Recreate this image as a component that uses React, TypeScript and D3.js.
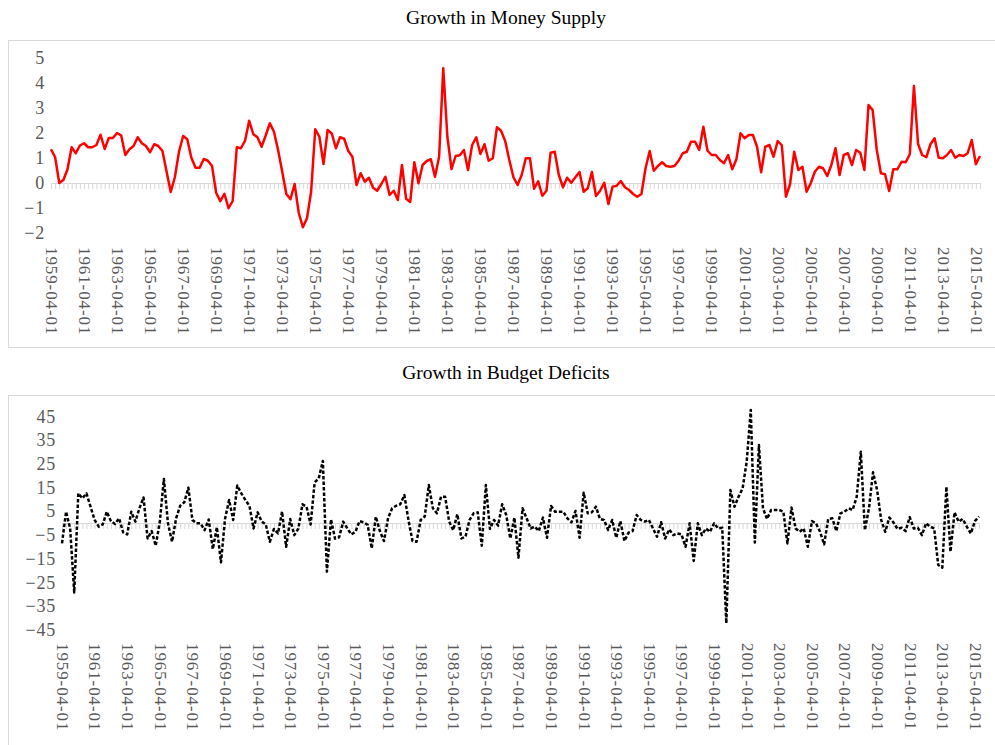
import React, { useEffect, useRef } from 'react';
import * as d3 from 'd3';

const width = 995;
const height = 745;
const serif = 'Liberation Serif, Times New Roman, serif';

// labels shown on the category axis (every 8th quarter)
const tickLabels = [
  '1959-04-01', '1961-04-01', '1963-04-01', '1965-04-01', '1967-04-01',
  '1969-04-01', '1971-04-01', '1973-04-01', '1975-04-01', '1977-04-01',
  '1979-04-01', '1981-04-01', '1983-04-01', '1985-04-01', '1987-04-01',
  '1989-04-01', '1991-04-01', '1993-04-01', '1995-04-01', '1997-04-01',
  '1999-04-01', '2001-04-01', '2003-04-01', '2005-04-01', '2007-04-01',
  '2009-04-01', '2011-04-01', '2013-04-01', '2015-04-01',
];

const moneyTicks = [-2, -1, 0, 1, 2, 3, 4, 5];
const budgetTicks = [-45, -35, -25, -15, -5, 5, 15, 25, 35, 45];

// quarterly growth in money supply, 1959Q2 onwards
const moneyGrowth = [
  1.35, 1.03, 0.0, 0.12, 0.55, 1.43, 1.19, 1.5, 1.59, 1.43,
  1.43, 1.52, 1.93, 1.36, 1.8, 1.8, 2.0, 1.9, 1.12, 1.35,
  1.48, 1.83, 1.59, 1.48, 1.23, 1.55, 1.48, 1.28, 0.45, -0.36,
  0.23, 1.25, 1.88, 1.75, 1.01, 0.61, 0.61, 0.96, 0.89, 0.68,
  -0.39, -0.73, -0.43, -1.01, -0.72, 1.43, 1.39, 1.69, 2.49, 1.95,
  1.83, 1.45, 1.9, 2.39, 2.05, 1.32, 0.45, -0.44, -0.65, -0.04,
  -1.19, -1.77, -1.41, -0.35, 2.15, 1.85, 0.76, 2.12, 1.98, 1.39,
  1.83, 1.77, 1.28, 1.05, -0.08, 0.39, 0.05, 0.21, -0.19, -0.31,
  -0.04, 0.25, -0.48, -0.31, -0.68, 0.72, -0.63, -0.76, 0.83, -0.01,
  0.72, 0.88, 0.95, 0.25, 1.05, 4.59, 1.85, 0.55, 1.08, 1.11,
  1.32, 0.52, 1.52, 1.83, 1.16, 1.55, 0.89, 0.99, 2.23, 2.09,
  1.68, 0.92, 0.23, -0.08, 0.32, 0.99, 0.99, -0.23, 0.07, -0.51,
  -0.31, 1.21, 1.25, 0.32, -0.17, 0.21, 0.01, 0.23, 0.44, -0.35,
  -0.21, 0.44, -0.52, -0.31, 0.01, -0.84, -0.15, -0.11, 0.08, -0.17,
  -0.28, -0.44, -0.55, -0.44, 0.59, 1.28, 0.49, 0.68, 0.83, 0.68,
  0.65, 0.68, 0.89, 1.19, 1.25, 1.65, 1.65, 1.32, 2.25, 1.29,
  1.12, 1.12, 0.92, 0.79, 1.12, 0.55, 0.95, 1.99, 1.79, 1.92,
  1.92, 1.45, 0.43, 1.45, 1.52, 1.05, 1.68, 1.51, -0.55, -0.04,
  1.25, 0.52, 0.65, -0.35, -0.01, 0.45, 0.65, 0.59, 0.28, 0.72,
  1.39, 0.32, 1.12, 1.19, 0.72, 1.32, 1.21, 0.52, 3.12, 2.92,
  1.32, 0.39, 0.35, -0.32, 0.55, 0.55, 0.85, 0.83, 1.15, 3.88,
  1.56, 1.12, 1.03, 1.55, 1.79, 1.01, 0.99, 1.12, 1.32, 1.01,
  1.12, 1.08, 1.19, 1.72, 0.75, 1.08,
];

// quarterly growth in budget deficits, same quarters
const budgetGrowth = [
  -8.6, 4.8, -2.3, -29.3, 12.5, 10.4, 12.5, 6.9, 1.3, -1.5,
  -0.6, 4.8, 0.8, -0.4, 2.0, -3.9, -4.8, 4.8, 0.6, 6.2,
  10.8, -6.5, -3.4, -9.6, 0.6, 18.6, -0.1, -7.9, 2.0, 7.3,
  8.7, 14.9, 1.3, -0.1, -0.1, -3.0, 1.5, -11.0, -1.8, -16.6,
  1.7, 9.7, 1.3, 15.8, 12.5, 9.7, 7.2, -2.3, 4.5, 0.6,
  -0.6, -7.9, -2.5, -4.4, 4.8, -10.0, 1.7, -5.1, -2.3, 7.9,
  6.9, -0.6, 17.2, 18.8, 26.2, -20.5, 1.5, -6.6, -6.0, 0.6,
  -2.3, -4.8, -3.7, 0.8, 0.3, -0.8, -10.7, 2.7, -3.4, -7.6,
  2.0, 6.2, 7.3, 7.9, 11.8, 1.3, -7.6, -7.9, 1.3, 2.7,
  16.0, 6.2, 4.1, 11.1, 11.1, 0.6, -3.0, 3.7, -6.5, -5.8,
  1.3, 4.1, 4.5, -9.6, 16.0, -2.5, 1.3, -1.1, 7.9, 3.4,
  -6.5, 2.3, -14.6, 6.2, 2.0, -2.3, -1.5, -3.4, 2.3, -6.2,
  7.2, 4.8, 4.8, 4.8, 2.0, 0.3, 5.1, -6.2, 12.8, 4.1,
  4.5, 6.9, 1.7, 1.3, -3.0, 1.3, -6.2, 0.8, -7.6, -4.1,
  -3.4, 3.4, 1.3, 0.6, 1.3, -2.3, -5.8, 0.3, -6.5, -2.7,
  -5.1, -4.4, -4.8, -10.0, -0.1, -16.0, -0.1, -5.1, -2.3, -3.7,
  -0.1, -2.3, -2.0, -42.3, 13.9, 6.9, 11.1, 14.6, 25.9, 47.7,
  -8.2, 32.9, 6.2, 1.7, 5.5, 5.5, 5.5, 4.8, -8.6, 6.5,
  -2.3, -3.7, -2.3, -10.0, 0.8, -0.1, -3.7, -9.0, 1.7, 2.0,
  -3.4, 4.1, 4.8, 6.2, 5.5, 11.1, 30.1, -3.0, 6.2, 21.4,
  13.9, 1.3, -3.7, 2.3, 0.3, -2.5, -2.0, -3.4, 2.5, -2.3,
  -2.0, -5.1, -0.1, -1.5, -2.3, -17.7, -18.8, 15.3, -12.1, 4.5,
  0.6, 1.7, -1.5, -4.4, 0.8, 2.7,
];

const parse = d3.timeParse('%Y-%m-%d');
const fmt = d3.timeFormat('%Y-%m-%d');
const start = parse(tickLabels[0]);
const quarters = d3.timeMonth.every(3)
  .range(start, d3.timeMonth.offset(start, 3 * moneyGrowth.length))
  .map(fmt);

const panels = [
  {
    title: 'Growth in Money Supply', values: moneyGrowth, ticks: moneyTicks,
    frameTop: 40, frameHeight: 307, titleY: 24, left: 51, right: 980,
    yDomain: [-2, 5], yRange: [233, 58], labelTop: 247,
    color: '#ff0000', dash: null,
  },
  {
    title: 'Growth in Budget Deficits', values: budgetGrowth, ticks: budgetTicks,
    frameTop: 395, frameHeight: 400, titleY: 379, left: 62, right: 979,
    yDomain: [-45, 50], yRange: [629.7, 404.5], labelTop: 643,
    color: '#000000', dash: '3.5 2',
  },
];

export default function App() {
  const ref = useRef(null);

  useEffect(() => {
    const svg = d3.select(ref.current);
    svg.selectAll('*').remove();
    svg.append('rect').attr('width', width).attr('height', height).attr('fill', '#fff');

    panels.forEach(p => {
      const g = svg.append('g').attr('font-family', serif);

      // chart frame
      g.append('rect')
        .attr('x', 8.5).attr('y', p.frameTop + 0.5)
        .attr('width', 1000).attr('height', p.frameHeight)
        .attr('fill', 'none').attr('stroke', '#d9d9d9');

      g.append('text')
        .attr('x', 506).attr('y', p.titleY)
        .attr('text-anchor', 'middle')
        .attr('font-size', 19.5)
        .attr('fill', '#000')
        .text(p.title);

      const x = d3.scalePoint().domain(quarters).range([p.left, p.right]);
      const y = d3.scaleLinear().domain(p.yDomain).range(p.yRange);

      // y axis labels
      const yAxisGroup = g.append('g')
        .attr('transform', `translate(${p.left}, 0)`)
        .call(d3.axisLeft(y).tickValues(p.ticks).tickFormat(d3.format('d')).tickSize(0).tickPadding(6));
      yAxisGroup.attr('font-family', serif).attr('font-size', 18);
      yAxisGroup.select('path').remove();
      yAxisGroup.selectAll('text')
        .attr('letter-spacing', 0.8)
        .attr('fill', '#595959');

      // zero line with a tick at every quarter
      const zeroAxis = g.append('g')
        .attr('transform', `translate(0, ${y(0)})`)
        .call(d3.axisBottom(x).tickValues(quarters).tickFormat(() => '').tickSizeInner(6).tickSizeOuter(0));
      zeroAxis.select('path').attr('stroke', '#d9d9d9');
      zeroAxis.selectAll('line').attr('stroke', '#d9d9d9');

      // category labels at the bottom of the plot
      const labelAxis = g.append('g')
        .attr('transform', `translate(0, ${p.labelTop})`)
        .call(d3.axisBottom(x).tickValues(tickLabels).tickSize(0));
      labelAxis.attr('font-family', serif).attr('font-size', 17);
      labelAxis.select('path').remove();
      labelAxis.selectAll('text')
        .attr('x', 0).attr('y', 0).attr('dy', '0.33em')
        .attr('text-anchor', 'start')
        .attr('transform', 'rotate(90)')
        .attr('letter-spacing', 0.9)
        .attr('fill', '#595959');

      const line = d3.line<number>()
        .x((d, i) => x(quarters[i]))
        .y(d => y(d));

      g.append('path')
        .attr('d', line(p.values))
        .attr('fill', 'none')
        .attr('stroke', p.color)
        .attr('stroke-width', 2.5)
        .attr('stroke-linejoin', 'round')
        .attr('stroke-dasharray', p.dash);
    });
  }, []);

  return (
    <svg
      ref={ref}
      width={width}
      height={height}
      style={{ position: 'absolute', left: 0, top: 0, display: 'block' }}
    />
  );
}
